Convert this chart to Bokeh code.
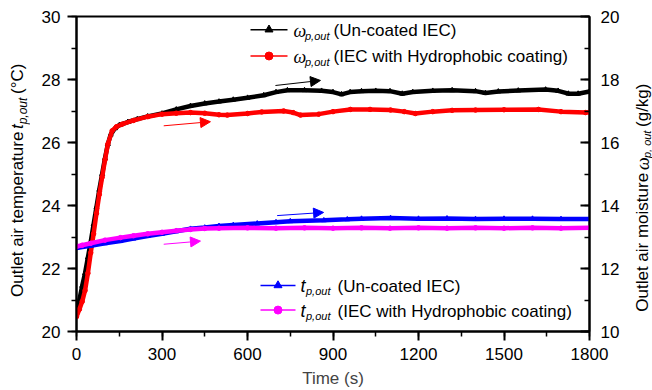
import math
from bokeh.plotting import figure
from bokeh.layouts import row
from bokeh.models import Range1d, LinearAxis, SingleIntervalTicker, Arrow, NormalHead
from bokeh.core.properties import value
from bokeh.embed import file_html
from bokeh.resources import INLINE

# ---------------- data ----------------
# omega_p,out, un-coated IEC (g/kg, right axis)
t_w_unc = [0, 10, 20, 30, 40, 50, 60, 70, 80, 90, 100, 110, 120, 135, 150, 180, 213, 250, 300,
           350, 400, 450, 500, 550, 600, 657, 700, 740, 800, 860, 900, 930, 960, 1000, 1050, 1100,
           1143, 1180, 1250, 1318, 1400, 1435, 1480, 1550, 1646, 1690, 1726, 1760, 1800]
w_unc = [10.57, 11.0, 11.45, 11.85, 12.35, 12.85, 13.4, 13.95, 14.5, 15.0, 15.5, 15.95, 16.25,
         16.45, 16.55, 16.65, 16.74, 16.83, 16.92, 17.05, 17.16, 17.24, 17.3, 17.36, 17.42, 17.5,
         17.6, 17.66, 17.66, 17.64, 17.6, 17.53, 17.6, 17.63, 17.64, 17.63, 17.55, 17.6, 17.64,
         17.66, 17.63, 17.57, 17.62, 17.65, 17.68, 17.64, 17.55, 17.55, 17.62]

# omega_p,out, IEC with hydrophobic coating (g/kg, right axis)
t_w_coat = [0, 10, 20, 30, 40, 50, 60, 70, 80, 90, 100, 110, 125, 140, 160, 200, 250, 300, 350,
            400, 450, 500, 529, 600, 650, 727, 760, 786, 850, 900, 961, 1030, 1102, 1150, 1189,
            1250, 1318, 1400, 1500, 1621, 1700, 1786, 1800]
w_coat = [10.47, 10.7, 10.95, 11.3, 11.85, 12.5, 13.1, 13.75, 14.35, 14.9, 15.45, 15.95, 16.37,
          16.5, 16.58, 16.7, 16.82, 16.9, 16.93, 16.95, 16.93, 16.88, 16.87, 16.92, 16.97, 17.0,
          16.95, 16.87, 16.9, 16.98, 17.05, 17.05, 17.03, 16.98, 16.92, 16.98, 17.02, 17.03,
          17.04, 17.05, 16.98, 16.95, 16.96]

# t_p,out, un-coated IEC (deg C, left axis)
t_t_unc = [0, 20, 50, 100, 154, 200, 250, 300, 350, 400, 450, 500, 550, 634, 700, 750, 868, 950,
           1000, 1102, 1200, 1300, 1400, 1500, 1600, 1700, 1800]
temp_unc = [22.65, 22.68, 22.72, 22.8, 22.87, 22.95, 23.03, 23.1, 23.18, 23.26, 23.3, 23.35,
            23.38, 23.43, 23.47, 23.5, 23.53, 23.56, 23.58, 23.6, 23.58, 23.59, 23.57, 23.58,
            23.58, 23.57, 23.57]

# t_p,out, IEC with hydrophobic coating (deg C, left axis)
t_t_coat = [0, 20, 50, 100, 154, 200, 250, 300, 350, 400, 450, 500, 600, 700, 800, 900, 1000,
            1100, 1200, 1300, 1400, 1500, 1600, 1700, 1800]
temp_coat = [22.7, 22.74, 22.8, 22.9, 22.98, 23.04, 23.1, 23.15, 23.2, 23.24, 23.27, 23.28,
             23.29, 23.28, 23.29, 23.28, 23.29, 23.28, 23.29, 23.28, 23.29, 23.28, 23.29, 23.28,
             23.29]

x_ticks_interval = 300
y_ticks_interval = 2

# ---------------- layout constants (canvas px) ----------------
FONT = "Liberation Sans"
FS = 17
TOTAL_W, TOTAL_H = 652, 390
LEFT_W, RIGHT_W = 30, 20
MAIN_W = TOTAL_W - LEFT_W - RIGHT_W
FRAME_L, FRAME_R, FRAME_T, FRAME_B = 76, 589, 16, 335

# ---------------- main figure ----------------
p = figure(width=MAIN_W, height=TOTAL_H, x_range=Range1d(0, 1800), y_range=Range1d(20, 30),
           output_backend="svg", toolbar_location=None, title=None,
           min_border_left=FRAME_L - LEFT_W, min_border_right=TOTAL_W - RIGHT_W - FRAME_R,
           min_border_top=FRAME_T, min_border_bottom=TOTAL_H - FRAME_B)
p.extra_y_ranges = {"w": Range1d(10, 20)}
p.xgrid.visible = False
p.ygrid.visible = False
p.outline_line_color = "black"
p.outline_line_width = 2
p.background_fill_color = "white"
p.border_fill_color = "white"

right = LinearAxis(y_range_name="w")
p.add_layout(right, "right")

p.xaxis.ticker = SingleIntervalTicker(interval=x_ticks_interval, num_minor_ticks=2)
p.yaxis[0].ticker = SingleIntervalTicker(interval=y_ticks_interval, num_minor_ticks=2)
right.ticker = SingleIntervalTicker(interval=y_ticks_interval, num_minor_ticks=2)

for ax in [p.xaxis[0], p.yaxis[0], right]:
    ax.axis_line_width = 2
    ax.axis_line_color = "black"
    ax.major_tick_line_width = 2
    ax.minor_tick_line_width = 1.5
    ax.major_label_text_font = FONT
    ax.major_label_text_font_size = f"{FS}px"
    ax.major_label_text_color = "black"
    ax.major_tick_out = 9
    ax.major_tick_in = 0
    ax.minor_tick_out = 5
    ax.minor_tick_in = 0
    ax.major_label_standoff = 7
right.major_tick_in = 9
right.major_tick_out = 0
right.minor_tick_in = 5
right.minor_tick_out = 0
right.major_label_standoff = 11

p.xaxis.axis_label = "Time (s)"
p.xaxis.axis_label_text_font = FONT
p.xaxis.axis_label_text_font_size = f"{FS}px"
p.xaxis.axis_label_text_font_style = "normal"
p.xaxis.axis_label_standoff = 6

# ---------------- series ----------------
LW = 4.5
p.line(t_w_unc, w_unc, y_range_name="w", line_color="black", line_width=LW)
p.scatter(t_w_unc, w_unc, y_range_name="w", marker="triangle", size=5, color="black")
p.line(t_w_coat, w_coat, y_range_name="w", line_color="red", line_width=LW)
p.scatter(t_w_coat, w_coat, y_range_name="w", marker="circle", size=4.5, color="red")
p.line(t_t_unc, temp_unc, line_color="blue", line_width=LW)
p.scatter(t_t_unc, temp_unc, marker="triangle", size=5, color="blue")
p.line(t_t_coat, temp_coat, line_color="magenta", line_width=LW)
p.scatter(t_t_coat, temp_coat, marker="circle", size=4.5, color="magenta")

# ---------------- helpers (canvas px -> data of the main frame) ----------------
def dx(px):
    return (px - FRAME_L) / (FRAME_R - FRAME_L) * 1800

def dy(py):
    return 30 - (py - FRAME_T) / (FRAME_B - FRAME_T) * 10

W = {' ': 278, '(': 333, ')': 333, ',': 278, '-': 333, '/': 278, '°': 400,
     'a': 556, 'b': 556, 'c': 500, 'd': 556, 'e': 556, 'f': 278, 'g': 556, 'h': 556,
     'i': 222, 'j': 222, 'k': 500, 'l': 222, 'm': 833, 'n': 556, 'o': 556, 'p': 556,
     'q': 556, 'r': 333, 's': 500, 't': 278, 'u': 556, 'v': 500, 'w': 722, 'x': 500,
     'y': 500, 'z': 500, 'C': 722, 'E': 667, 'H': 722, 'I': 278, 'O': 778, 'T': 611,
     'U': 722, 'ω': 670}

def tw(s, size):
    return sum(W.get(c, 556) for c in s) / 1000 * size

def txt(fig, x, y, text, size, style="normal", font=FONT, angle=0):
    fig.text(x=[x], y=[y], text=[text], angle=angle, text_font=value(font),
             text_font_size=value(f"{size}px"), text_font_style=value(style),
             text_color="black", text_align="left", text_baseline="middle")

# ---------------- legends ----------------
def legend_row(px_line0, px_line1, px_text, py, color, marker, sym, sym_font, sym_w, desc_x, desc):
    p.line([dx(px_line0), dx(px_line1)], [dy(py), dy(py)], line_color=color, line_width=1.5)
    p.scatter([dx((px_line0 + px_line1) / 2)], [dy(py)], marker=marker, size=8, color=color)
    txt(p, dx(px_text), dy(py + 1), sym, 18, "italic", sym_font)
    txt(p, dx(px_text + sym_w), dy(py + 6), "p,out", 11, "italic")
    txt(p, dx(desc_x), dy(py + 1), desc, FS)

legend_row(250, 287, 293, 29.3, "black", "triangle", "ω", "Liberation Serif", 11.5, 333,
           "(Un-coated IEC)")
legend_row(250, 287, 293, 56.0, "red", "circle", "ω", "Liberation Serif", 11.5, 333,
           "(IEC with Hydrophobic coating)")
legend_row(260, 295, 300, 288.3, "blue", "triangle", "t", FONT, 5.5, 337,
           "(Un-coated IEC)")
legend_row(260, 295, 300, 313.3, "magenta", "circle", "t", FONT, 5.5, 337,
           "(IEC with Hydrophobic coating)")

# ---------------- arrows ----------------
arrows = [((698, 27.81), (856, 27.97), "black"),
          ((306, 26.53), (470, 26.66), "red"),
          ((704, 23.68), (867, 23.78), "blue"),
          ((306, 22.77), (435, 22.87), "magenta")]
for (x0, y0), (x1, y1), c in arrows:
    p.add_layout(Arrow(end=NormalHead(size=10, fill_color=c, line_color=c, line_width=1),
                       x_start=x0, y_start=y0, x_end=x1, y_end=y1,
                       line_color=c, line_width=1))

# ---------------- side strips holding the rotated axis titles ----------------
# strip frames are aligned with the main frame (FRAME_T..FRAME_B); y data = canvas px from bottom
def strip(w):
    f = figure(width=w, height=TOTAL_H, x_range=Range1d(0, w),
               y_range=Range1d(TOTAL_H - FRAME_B, TOTAL_H - FRAME_T),
               output_backend="svg", toolbar_location=None, title=None,
               x_axis_type=None, y_axis_type=None, min_border_left=0, min_border_right=0,
               min_border_top=FRAME_T, min_border_bottom=TOTAL_H - FRAME_B)
    f.xgrid.visible = False
    f.ygrid.visible = False
    f.outline_line_color = None
    f.background_fill_color = "white"
    f.border_fill_color = "white"
    return f

A = math.pi / 2
lf = strip(LEFT_W)
y = 300
txt(lf, 17, TOTAL_H - y, "Outlet air temperature", FS, angle=A)
y -= tw("Outlet air temperature ", FS)
txt(lf, 17, TOTAL_H - y, "t", FS, "italic", angle=A)
y -= tw("t", FS)
txt(lf, 22.5, TOTAL_H - y, "p,out", 12, "italic", angle=A)
y -= tw("p,out", 12) + 4
txt(lf, 17, TOTAL_H - y, "(°C)", FS, angle=A)

rf = strip(RIGHT_W)
x0r = TOTAL_W - RIGHT_W
y = 315
txt(rf, 642 - x0r, TOTAL_H - y, "Outlet air moisture", FS, angle=A)
y -= tw("Outlet air moisture ", FS)
txt(rf, 642 - x0r, TOTAL_H - y, "ω", 18, "italic", "Liberation Serif", angle=A)
y -= 12
txt(rf, 646.5 - x0r, TOTAL_H - y, "p, out", 11, "italic", angle=A)
y -= tw("p, out", 11) + 4
txt(rf, 642 - x0r, TOTAL_H - y, "(g/kg)", FS, angle=A)

layout = row(lf, p, rf, spacing=0)
open("out.html", "w").write(file_html(layout, INLINE))
